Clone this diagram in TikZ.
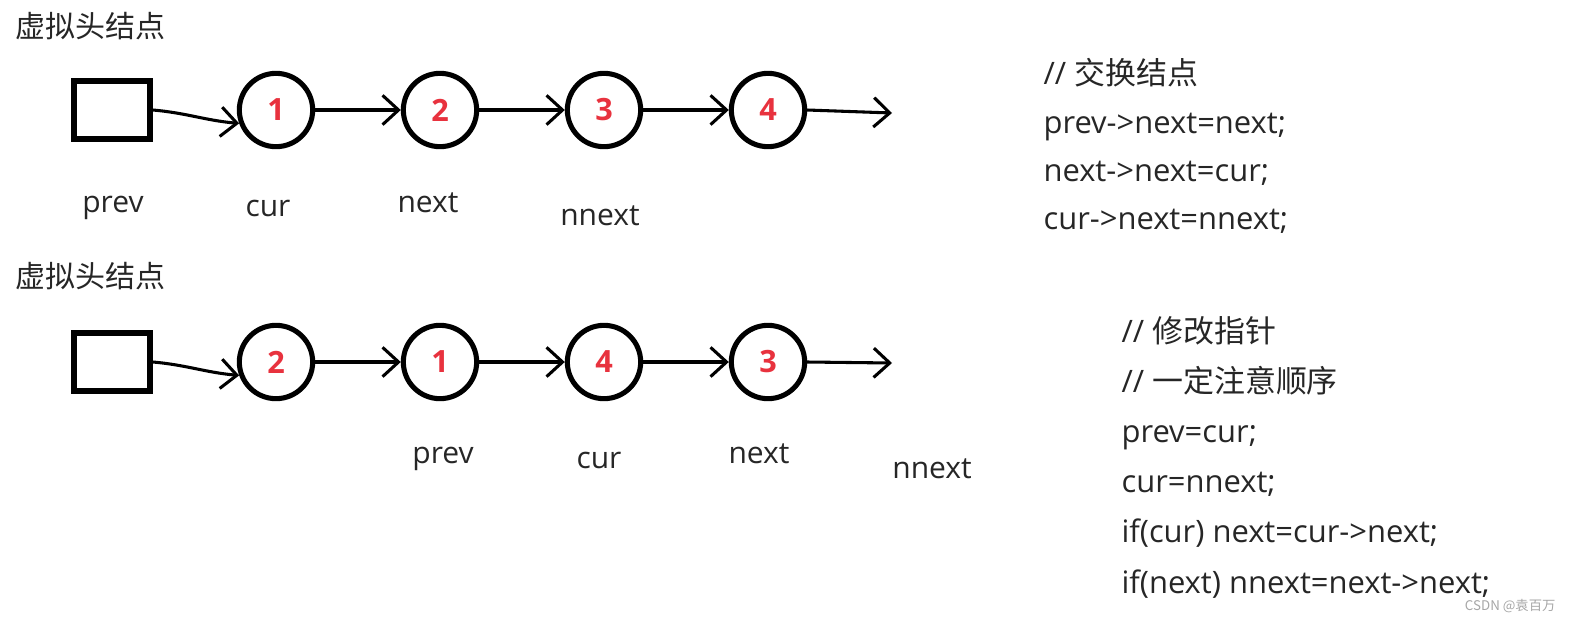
\documentclass[tikz,border=0pt]{standalone}
\usepackage{fontspec}
\setmainfont{Open Sans}
\newfontfamily\cjk{Noto Sans CJK SC}
\usepackage{tikz}
\usetikzlibrary{positioning}
\usetikzlibrary{arrows.meta}
\usepackage{xcolor}
\definecolor{numred}{HTML}{E8323E}
\definecolor{txtgray}{HTML}{262626}

\begin{document}
\begin{tikzpicture}[x=0.75pt, y=-0.75pt, node distance={123pt}, line width=2.3pt,
  main/.style = {draw, circle, line width=3.8pt, minimum size=55pt, inner sep=0pt, text=numred, font=\fontsize{23}{26}\selectfont\bfseries},
  head/.style = {draw, rectangle, line width=4.3pt, minimum width=57pt, minimum height=43.5pt},
  lbl/.style = {text=txtgray, anchor=base, inner sep=0pt, font=\fontsize{22.5}{26}\selectfont},
  code/.style = {lbl, anchor=base west, font=\fontsize{23.2}{26}\selectfont},
  link/.style = {-{Straight Barb[length=12pt, width=22pt]}}]
\useasboundingbox (0,0) rectangle (1587,622);

% before the swap
\node[lbl, anchor=base west] (T1) at (14,37) {\cjk 虚拟头结点};
\node[head] (H1) at (112,110) {};
\node[main] (A1) [right of=H1] {1};
\node[main] (B1) [right of=A1] {2};
\node[main] (C1) [right of=B1] {3};
\node[main] (D1) [right of=C1] {4};
\coordinate (E1) at (892,113);
\draw[link] (H1.east) to[out=-5, in=175] (A1.200);
\draw[link] (A1.east) -- (B1.west);
\draw[link] (B1.east) -- (C1.west);
\draw[link] (C1.east) -- (D1.west);
\draw[link] (D1.east) -- (E1);
\node[lbl] (p1) at (113,212) {prev};
\node[lbl] (c1) at (268,216) {cur};
\node[lbl] (n1) at (428,212) {next};
\node[lbl] (nn1) at (600,225) {nnext};

% after the swap
\node[lbl, anchor=base west] (T2) at (14,287) {\cjk 虚拟头结点};
\node[head] (H2) at (112,362) {};
\node[main] (A2) [right of=H2] {2};
\node[main] (B2) [right of=A2] {1};
\node[main] (C2) [right of=B2] {4};
\node[main] (D2) [right of=C2] {3};
\coordinate (E2) at (892,363);
\draw[link] (H2.east) to[out=-5, in=175] (A2.200);
\draw[link] (A2.east) -- (B2.west);
\draw[link] (B2.east) -- (C2.west);
\draw[link] (C2.east) -- (D2.west);
\draw[link] (D2.east) -- (E2);
\node[lbl] (p2) at (443,463) {prev};
\node[lbl] (c2) at (599,468) {cur};
\node[lbl] (n2) at (759,463) {next};
\node[lbl] (nn2) at (932,478) {nnext};

% code
\node[code] (k1) at (1042,84) {// {\cjk 交换结点}};
\node[code] (k2) at (1042,133) {prev->next=next;};
\node[code] (k3) at (1042,181) {next->next=cur;};
\node[code] (k4) at (1042,229) {cur->next=nnext;};
\node[code] (m1) at (1120,342) {// {\cjk 修改指针}};
\node[code] (m2) at (1120,392) {// {\cjk 一定注意顺序}};
\node[code] (m3) at (1120,442) {prev=cur;};
\node[code] (m4) at (1120,492) {cur=nnext;};
\node[code] (m5) at (1120,542) {if(cur) next=cur->next;};
\node[code] (m6) at (1120,593) {if(next) nnext=next->next;};
\node[anchor=base east, inner sep=0pt, text=gray!70, font=\cjk\fontsize{10}{12}\selectfont] (wm) at (1557,610) {CSDN @袁百万};
\end{tikzpicture}
\end{document}
